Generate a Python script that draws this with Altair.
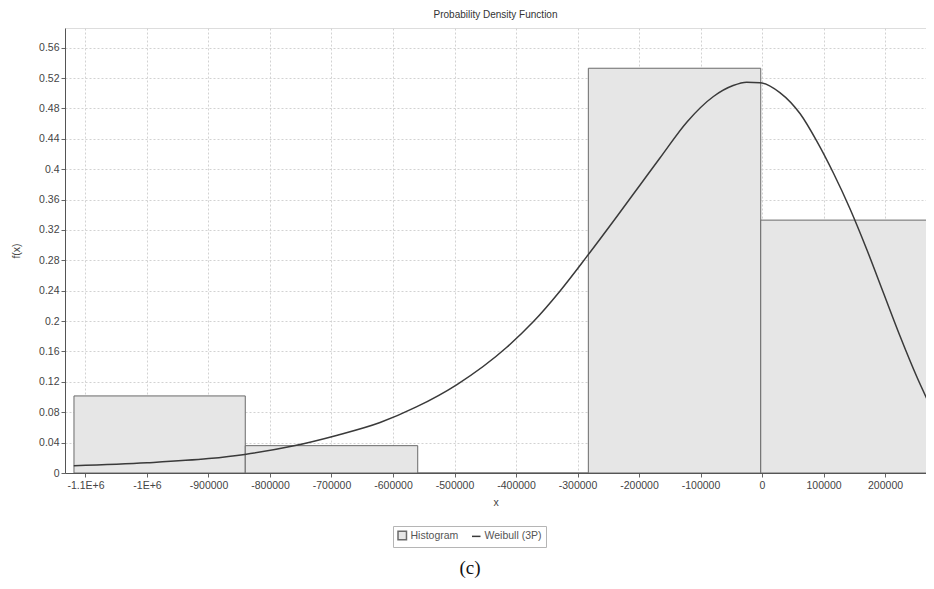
import altair as alt
import pandas as pd

# ---- data ----
bin_left = [-1118700, -840200, -559800, -282400, -2100]
bin_right = [-840200, -559800, -282400, -2100, 276000]
bin_height = [0.1015, 0.036, 0.0, 0.533, 0.333]

curve_x = [-1119000, -1000000, -900000, -841000, -763000, -692000, -621000,
           -562000, -496000, -415000, -372000, -329000, -285000, -236000,
           -198000, -166000, -122000, -79000, -47000, -25000, -3000, 29000,
           62000, 89000, 116000, 143000, 170000, 197000, 224000, 252000, 276000]
curve_y = [0.0095, 0.0135, 0.019, 0.0245, 0.0355, 0.0495, 0.0665,
           0.087, 0.1165, 0.1656, 0.1991, 0.2391, 0.2849, 0.3378,
           0.3796, 0.4148, 0.4623, 0.4958, 0.5102, 0.5146, 0.514, 0.501,
           0.473, 0.437, 0.395, 0.348, 0.295, 0.238, 0.181, 0.126, 0.084]

x_tick_values = [-1100000, -1000000, -900000, -800000, -700000, -600000,
                 -500000, -400000, -300000, -200000, -100000, 0, 100000, 200000]
x_tick_labels = ["-1.1E+6", "-1E+6", "-900000", "-800000", "-700000", "-600000",
                 "-500000", "-400000", "-300000", "-200000", "-100000", "0",
                 "100000", "200000"]
y_tick_values = [0, 0.04, 0.08, 0.12, 0.16, 0.2, 0.24, 0.28, 0.32, 0.36,
                 0.4, 0.44, 0.48, 0.52, 0.56]
legend_series = ["Histogram", "Weibull (3P)"]
caption = ["(c)"]

FONT = "Liberation Sans"

hist_df = pd.DataFrame({"left": bin_left, "right": bin_right, "height": bin_height})
curve_df = pd.DataFrame({"x": curve_x, "y": curve_y})
legend_df = pd.DataFrame({"series": legend_series})
caption_df = pd.DataFrame({"t": caption})

# label expression built from the tick lists
expr = "''"
for v, l in reversed(list(zip(x_tick_values, x_tick_labels))):
    expr = f"datum.value == {v} ? '{l}' : ({expr})"

x_scale = alt.Scale(domain=[-1133300, 266600], nice=False, zero=False)
y_scale = alt.Scale(domain=[0, 0.586], nice=False, zero=True)

common_axis = dict(
    grid=True, gridDash=[2, 2], gridColor="#d2d2d2", gridWidth=1,
    tickSize=4, tickColor="#666666", domainColor="#555555", domainWidth=1,
    labelFont=FONT, labelFontSize=10.5, labelColor="#444444", labelOverlap=False,
    titleFont=FONT, titleFontSize=10.5, titleFontWeight="normal", titleColor="#444444",
)

def x_axis():
    return alt.Axis(values=x_tick_values, labelExpr=expr, title="x",
                    labelPadding=3, titlePadding=7, **common_axis)

def y_axis():
    return alt.Axis(values=y_tick_values, format=".2~f", title="f(x)",
                    labelPadding=2, titlePadding=17, **common_axis)

bars = alt.Chart(hist_df).mark_rect(
    fill="#e6e6e6", stroke="#6a6a6a", strokeWidth=1, clip=True
).encode(
    x=alt.X("left:Q", scale=x_scale, axis=x_axis()),
    x2="right:Q",
    y=alt.Y("height:Q", scale=y_scale, axis=y_axis()),
    y2=alt.datum(0),
)

line = alt.Chart(curve_df).mark_line(
    color="#3a3a3a", strokeWidth=1.5, interpolate="monotone", clip=True
).encode(
    x=alt.X("x:Q", scale=x_scale, axis=x_axis()),
    y=alt.Y("y:Q", scale=y_scale, axis=y_axis()),
)

legend = alt.Legend(
    title=None, orient="none", legendX=328, legendY=498, direction="horizontal",
    strokeColor="#b5b5b5", fillColor="white", padding=4, symbolOpacity=1,
    symbolSize=72, symbolStrokeWidth=1.5, labelFont=FONT, labelFontSize=10.5,
    labelColor="#555555", columnPadding=10, labelOffset=3,
)
sdom = alt.Scale(domain=legend_series, range=["square", "stroke"])
fdom = alt.Scale(domain=legend_series, range=["#e6e6e6", "#3a3a3a"])
kdom = alt.Scale(domain=legend_series, range=["#6a6a6a", "#3a3a3a"])

legend_layer = alt.Chart(legend_df).mark_point(opacity=0, size=1).encode(
    x=alt.value(5), y=alt.value(5),
    shape=alt.Shape("series:N", scale=sdom, legend=legend),
    fill=alt.Fill("series:N", scale=fdom, legend=legend),
    stroke=alt.Stroke("series:N", scale=kdom, legend=legend),
)

cap = alt.Chart(caption_df).mark_text(
    font="Liberation Serif", fontSize=19, color="#111111", baseline="middle", align="center"
).encode(x=alt.value(405), y=alt.value(540), text="t:N")

chart = alt.layer(bars, line, legend_layer, cap).properties(
    width=861, height=445,
    title=alt.TitleParams("Probability Density Function", font=FONT, fontSize=10,
                          fontWeight="normal", color="#333333", anchor="middle", offset=8),
    autosize=alt.AutoSizeParams(type="none"),
    padding={"left": 57, "top": 20, "right": 0, "bottom": 107},
).configure_view(stroke="#808080", strokeWidth=1).configure(background="white")

chart.save("out.html", embed_options={"renderer": "svg", "actions": False})
